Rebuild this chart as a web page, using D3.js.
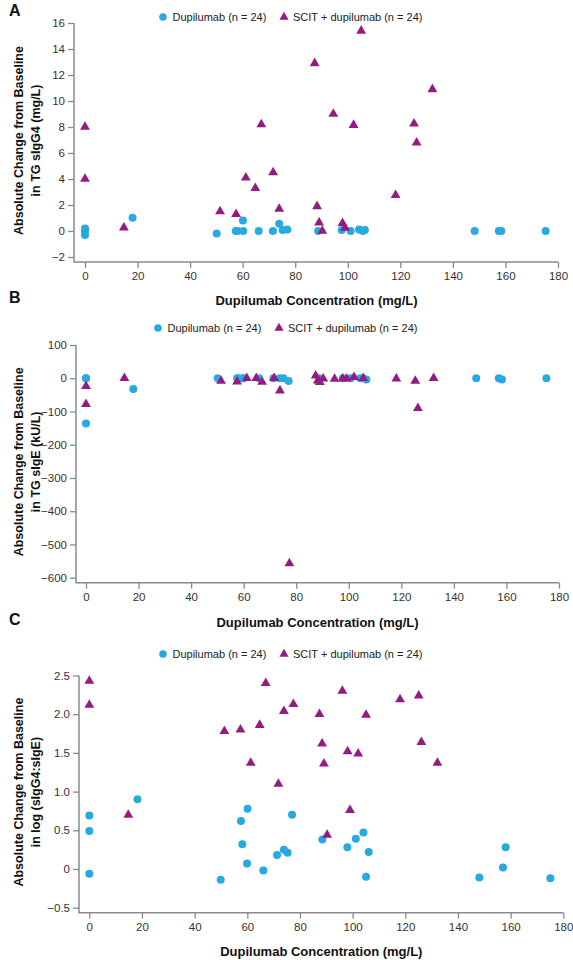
<!DOCTYPE html>
<html><head><meta charset="utf-8">
<script src="https://cdn.jsdelivr.net/npm/d3@7"></script>
<style>
body{margin:0;background:#fff;}
svg{display:block;font-family:"Liberation Sans",Arial,Helvetica,sans-serif;}
</style></head>
<body><svg id="chart" width="573" height="960"></svg>
<script>
// ---- data ----
const xTicks = [0,20,40,60,80,100,120,140,160,180];
const aYTicks = [-2,0,2,4,6,8,10,12,14,16];
const bYTicks = [-600,-500,-400,-300,-200,-100,0,100];
const cYTicks = [-0.5,0,0.5,1.0,1.5,2.0,2.5];
const seriesNames = ["Dupilumab (n = 24)","SCIT + dupilumab (n = 24)"];

const aDupX = [0,0,0,18.1,50.1,57.4,58,60.1,60.2,66.1,71.5,73.9,75.2,77,88.7,97.7,101.1,104.3,105.7,106.5,148.3,157.5,158.4,175.3];
const aDupY = [0.2,0,-0.3,1.02,-0.2,0,0,0.8,0,0,0,0.55,0.07,0.12,0,0.07,0,0.12,0,0.07,0,0,0,0];
const aScitX = [0,0,14.8,51.4,57.5,61.2,64.8,67.1,71.6,73.9,87.4,88.3,89.1,90.3,94.5,98,99,102.2,105.1,118.2,125.2,126.2,132.2];
const aScitY = [8.0,4.0,0.25,1.5,1.3,4.1,3.3,8.2,4.5,1.7,12.9,1.9,0.65,0,9.0,0.6,0.23,8.15,15.4,2.75,8.25,6.8,10.9];

const bDupX = [0,0,0,18,50.1,57.5,58,59.6,60,65.9,71.3,73.8,75.1,77.1,88.8,97.7,100.7,104.3,105.5,106.7,148.5,157.1,158.3,175.2];
const bDupY = [0,0,-136,-32,0,0,0,0,0,0,0,0,0,-8,0,0,0,0,0,-4,0,0,-4,0];
const bScitX = [0,0,14.6,51.4,57.5,61.2,64.8,67,71.6,73.8,77.4,87.4,88.2,89,90.3,94.6,97.7,99.2,102,105.5,118.1,125.3,126.3,132.3];
const bScitY = [-24,-78,0,-8,-10,0,0,-11,0,-37,-557,8,-7,-12,-1,-2,-1,-1,3,0,-1,-8,-90,0];

const cDupX = [0,0,0,18.3,49.9,57.6,58.1,60.1,59.9,66.1,71.3,73.9,75.3,77,88.5,98,101.2,104.1,105.1,106.1,148.1,157.1,158.1,175.1];
const cDupY = [0.69,0.49,-0.06,0.90,-0.14,0.62,0.32,0.78,0.07,-0.02,0.18,0.25,0.21,0.70,0.38,0.28,0.39,0.47,-0.10,0.22,-0.11,0.02,0.28,-0.12];
const cScitX = [0,0,14.8,51.3,57.4,61.3,64.7,67,71.8,73.9,77.5,87.4,88.4,89.1,90.3,96.1,98.1,99,102.1,105.1,118,125.1,126.1,132.2];
const cScitY = [2.43,2.12,0.70,1.78,1.80,1.37,1.86,2.40,1.10,2.04,2.13,2.0,1.62,1.36,0.44,2.30,1.52,0.76,1.49,1.99,2.19,2.24,1.64,1.37];

// ---- styles / layout ----
const BLUE = "#29a9e1", PURPLE = "#951b81", AXIS = "#8a8a8a", TXT = "#333";
const svg = d3.select("#chart");
const triSize = 42;

const panels = [
  {letter:"A", letterY:16, x0:85, x1:558, axX:74, yTop:23, yBot:257, axY:262,
   yDomain:[-2,16], yTicks:aYTicks, fmt:d=>d3.format("d")(d),
   yTitle:["Absolute Change from Baseline","in TG sIgG4 (mg/L)"],
   legY:17, legX:163, dupX:aDupX, dupY:aDupY, scitX:aScitX, scitY:aScitY, xTitleY:305},
  {letter:"B", letterY:303, x0:86, x1:559, axX:76, yTop:345, yBot:577.7, axY:582.7,
   yDomain:[-600,100], yTicks:bYTicks, fmt:d=>d3.format("d")(d),
   yTitle:["Absolute Change from Baseline","in TG sIgE (kU/L)"],
   legY:328, legX:158, dupX:bDupX, dupY:bDupY, scitX:bScitX, scitY:bScitY, xTitleY:627},
  {letter:"C", letterY:625, x0:89.3, x1:563.3, axX:79, yTop:675.5, yBot:907.7, axY:912.7,
   yDomain:[-0.5,2.5], yTicks:cYTicks, fmt:d=>d===0?"0":d3.format(".1f")(d),
   yTitle:["Absolute Change from Baseline","in log (sIgG4:sIgE)"],
   legY:654, legX:163, dupX:cDupX, dupY:cDupY, scitX:cScitX, scitY:cScitY, xTitleY:956}
];

panels.forEach(p => {
  const g = svg.append("g");
  const x = d3.scaleLinear().domain([0,180]).range([p.x0,p.x1]);
  const y = d3.scaleLinear().domain(p.yDomain).range([p.yBot,p.yTop]);

  // axes
  const yAxis = g.append("g").attr("transform",`translate(${p.axX},0)`)
    .call(d3.axisLeft(y).tickValues(p.yTicks).tickFormat(p.fmt).tickSize(6).tickPadding(3));
  yAxis.select(".domain").remove();
  const xAxis = g.append("g").attr("transform",`translate(0,${p.axY})`)
    .call(d3.axisBottom(x).tickValues(xTicks).tickFormat(d3.format("d")).tickSize(6).tickPadding(4));
  xAxis.select(".domain").remove();
  [yAxis,xAxis].forEach(a=>{
    a.selectAll("line").attr("stroke",AXIS).attr("stroke-width",1.3);
    a.selectAll("text").attr("fill",TXT).style("font-size","11.5px").style("font-family","'Liberation Sans',Arial,sans-serif");
  });
  g.append("path")
    .attr("d",`M${p.axX},${y(p.yDomain[1])}V${p.axY}H${x(180)}`)
    .attr("fill","none").attr("stroke",AXIS).attr("stroke-width",1.5);

  // points
  g.append("g").selectAll("circle").data(d3.range(p.dupX.length)).join("circle")
    .attr("cx",i=>x(p.dupX[i])).attr("cy",i=>y(p.dupY[i])).attr("r",4).attr("fill",BLUE);
  g.append("g").selectAll("path").data(d3.range(p.scitX.length)).join("path")
    .attr("d",d3.symbol().type(d3.symbolTriangle).size(triSize))
    .attr("transform",i=>`translate(${x(p.scitX[i])},${y(p.scitY[i])})`).attr("fill",PURPLE);

  // legend
  const lg = g.append("g").attr("transform",`translate(${p.legX},${p.legY})`);
  lg.append("circle").attr("cx",0).attr("cy",0).attr("r",3.8).attr("fill",BLUE);
  lg.append("text").attr("x",9.5).attr("y",4).text(seriesNames[0]).attr("fill","#222").style("font-size","11px");
  lg.append("path").attr("d",d3.symbol().type(d3.symbolTriangle).size(36)).attr("transform","translate(121,0)").attr("fill",PURPLE);
  lg.append("text").attr("x",130).attr("y",4).text(seriesNames[1]).attr("fill","#222").style("font-size","11px");

  // titles
  g.append("text").attr("x",(x(0)+x(180))/2 - 5).attr("y",p.xTitleY).attr("text-anchor","middle")
    .style("font-size","13px").style("font-weight","bold").attr("fill","#111").text("Dupilumab Concentration (mg/L)");
  const cy = (p.yTop + p.axY)/2 - 2;
  const yt = g.append("text").attr("transform",`translate(23,${cy}) rotate(-90)`).attr("text-anchor","middle")
    .style("font-size","12.5px").style("font-weight","bold").attr("fill","#111");
  yt.append("tspan").attr("x",0).attr("y",0).text(p.yTitle[0]);
  yt.append("tspan").attr("x",0).attr("y",17).text(p.yTitle[1]);
  g.append("text").attr("x",9).attr("y",p.letterY).style("font-size","16px").style("font-weight","bold")
    .attr("fill","#111").text(p.letter);
});
</script></body></html>
